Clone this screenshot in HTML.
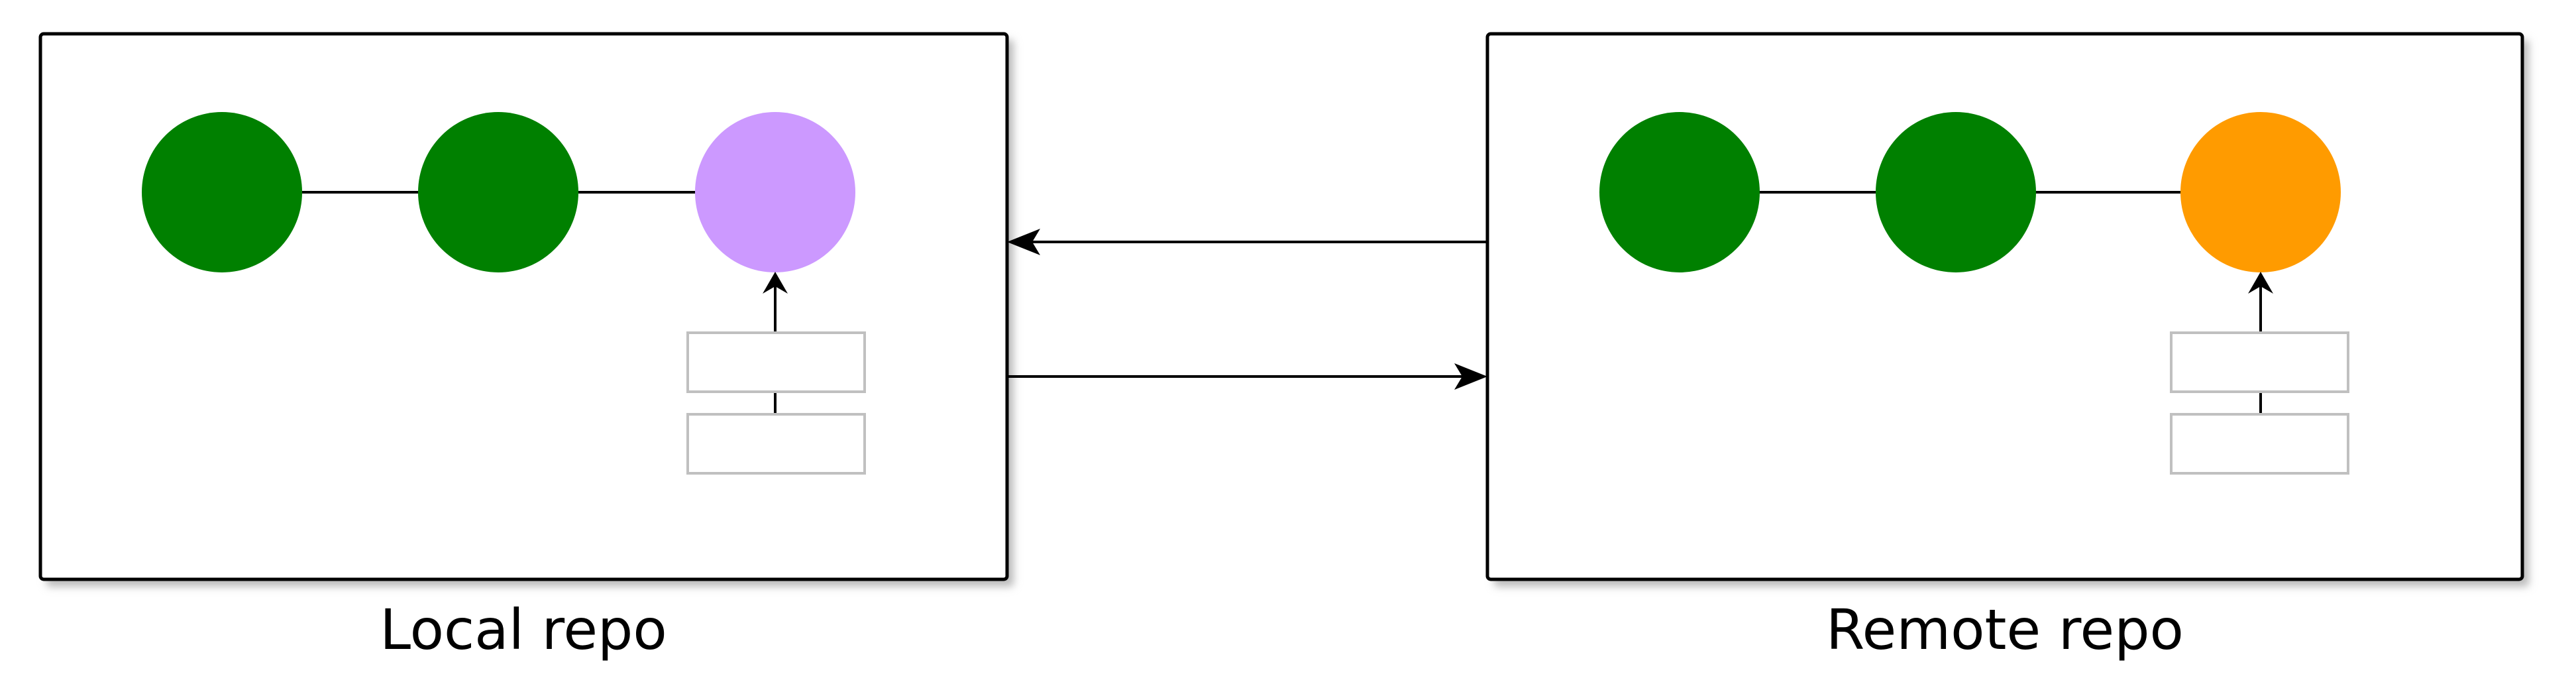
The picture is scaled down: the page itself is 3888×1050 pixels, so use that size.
<!DOCTYPE html>
<html><head><meta charset="utf-8"><style>
html,body{margin:0;padding:0;background:#fff;}
svg{display:block;}
</style></head><body>
<svg width="3888" height="1050" viewBox="0 0 3888 1050" xmlns="http://www.w3.org/2000/svg">
<defs>
<filter id="sh" x="-5%" y="-5%" width="115%" height="120%">
<feGaussianBlur stdDeviation="6"/>
</filter>
</defs>
<rect x="70" y="60" width="1460" height="825" rx="5" fill="#bbb" filter="url(#sh)"/>
<rect x="2255" y="60" width="1562" height="825" rx="5" fill="#bbb" filter="url(#sh)"/>
<rect x="61" y="51" width="1459" height="823" rx="5" fill="#fff" stroke="#000" stroke-width="5"/>
<rect x="2245" y="51" width="1562" height="823" rx="5" fill="#fff" stroke="#000" stroke-width="5"/>
<g stroke="#000" stroke-width="4">
<line x1="456" y1="290" x2="632" y2="290"/>
<line x1="873" y1="290" x2="1050" y2="290"/>
<line x1="2655" y1="290" x2="2831" y2="290"/>
<line x1="3072" y1="290" x2="3292" y2="290"/>
<line x1="1170" y1="502" x2="1170" y2="425"/>
<line x1="1170" y1="593" x2="1170" y2="625"/>
<line x1="3412" y1="502" x2="3412" y2="425"/>
<line x1="3412" y1="593" x2="3412" y2="625"/>
<line x1="2245" y1="365" x2="1540" y2="365"/>
<line x1="1520" y1="568" x2="2225" y2="568"/>
</g>
<circle cx="335" cy="290" r="121" fill="#008000"/>
<circle cx="752" cy="290" r="121" fill="#008000"/>
<circle cx="1170" cy="290" r="121" fill="#cc99ff"/>
<circle cx="2535" cy="290" r="121" fill="#008000"/>
<circle cx="2952" cy="290" r="121" fill="#008000"/>
<circle cx="3412" cy="290" r="121" fill="#ff9b00"/>
<g fill="#000">
<polygon points="1170,410 1189,443 1170,432 1151,443"/>
<polygon points="3412,410 3431,443 3412,432 3393,443"/>
<polygon points="1520,365 1570,345 1558,365 1570,385"/>
<polygon points="2245,568 2195,548 2207,568 2195,588"/>
</g>
<g fill="#fff" stroke="#c0c0c0" stroke-width="4">
<rect x="1038" y="502" width="267" height="89"/>
<rect x="1038" y="625" width="267" height="89"/>
<rect x="3277" y="502" width="267" height="89"/>
<rect x="3277" y="625" width="267" height="89"/>
</g>
<g font-family="'DejaVu Sans','Liberation Sans',sans-serif" font-size="84" text-anchor="middle" fill="#000">
<text x="790" y="979">Local repo</text>
<text x="3026" y="979">Remote repo</text>
</g>
</svg>
</body></html>
